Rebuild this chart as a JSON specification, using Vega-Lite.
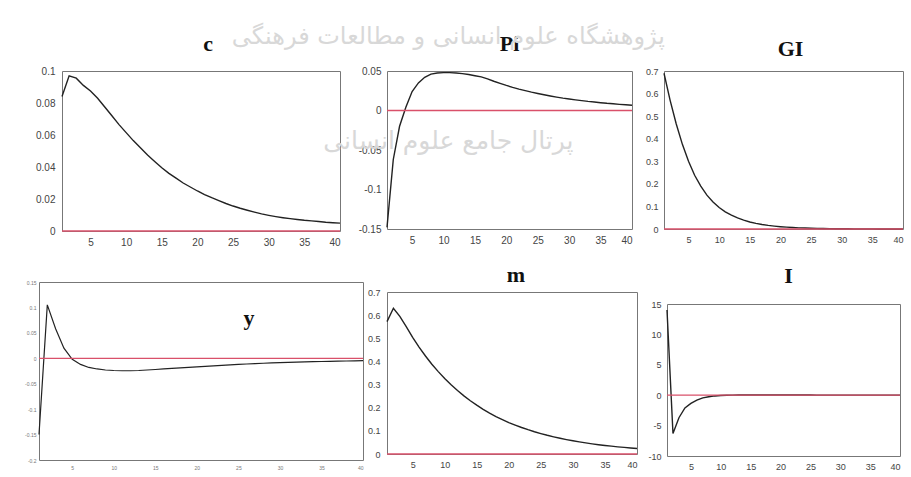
{
  "$schema": "https://vega.github.io/schema/vega-lite/v6.json",
  "background": "white",
  "padding": {"left": 22, "top": 24, "right": 0, "bottom": 0},
  "title": {
    "text": "پژوهشگاه علوم انسانی و مطالعات فرهنگی",
    "subtitle": "پرتال جامع علوم انسانی",
    "frame": "bounds", "anchor": "middle", "offset": -121, "dx": -16,
    "font": "DejaVu Sans", "fontWeight": "normal", "fontSize": 24, "color": "#d8d8d8",
    "subtitleFont": "DejaVu Sans", "subtitleFontSize": 25, "subtitleColor": "#d8d8d8", "subtitlePadding": 80
  },
  "config": {
    "view": {"stroke": "#777", "strokeWidth": 1},
    "axis": {"grid": false, "domain": false, "ticks": false, "labelFont": "Liberation Sans", "labelFontSize": 10, "labelColor": "#444", "labelPadding": 6, "labelOverlap": false, "labelSeparation": 0, "tickCount": 20},
    "title": {"font": "Liberation Serif", "fontWeight": "bold", "fontSize": 22, "color": "#111", "frame": "group"}
  },
  "datasets": {
    "c": [{"t":1,"v":0.084},{"t":2,"v":0.097},{"t":3,"v":0.0955},{"t":4,"v":0.091},{"t":5,"v":0.0875},{"t":6,"v":0.083},{"t":7,"v":0.0775},{"t":8,"v":0.072},{"t":9,"v":0.0665},{"t":10,"v":0.0615},{"t":11,"v":0.0565},{"t":12,"v":0.052},{"t":13,"v":0.0475},{"t":14,"v":0.0435},{"t":15,"v":0.0395},{"t":16,"v":0.036},{"t":17,"v":0.033},{"t":18,"v":0.03},{"t":19,"v":0.0275},{"t":20,"v":0.025},{"t":21,"v":0.0228},{"t":22,"v":0.0208},{"t":23,"v":0.019},{"t":24,"v":0.0172},{"t":25,"v":0.0156},{"t":26,"v":0.0142},{"t":27,"v":0.013},{"t":28,"v":0.0118},{"t":29,"v":0.0107},{"t":30,"v":0.0098},{"t":31,"v":0.009},{"t":32,"v":0.0083},{"t":33,"v":0.0077},{"t":34,"v":0.0072},{"t":35,"v":0.0067},{"t":36,"v":0.0063},{"t":37,"v":0.0059},{"t":38,"v":0.0055},{"t":39,"v":0.0052},{"t":40,"v":0.0049}],
    "Pi": [{"t":1,"v":-0.148},{"t":2,"v":-0.062},{"t":3,"v":-0.02},{"t":4,"v":0.004},{"t":5,"v":0.024},{"t":6,"v":0.035},{"t":7,"v":0.042},{"t":8,"v":0.046},{"t":9,"v":0.0475},{"t":10,"v":0.048},{"t":11,"v":0.048},{"t":12,"v":0.0475},{"t":13,"v":0.0467},{"t":14,"v":0.0455},{"t":15,"v":0.044},{"t":16,"v":0.0425},{"t":17,"v":0.04},{"t":18,"v":0.037},{"t":19,"v":0.0343},{"t":20,"v":0.0317},{"t":21,"v":0.0293},{"t":22,"v":0.0271},{"t":23,"v":0.0251},{"t":24,"v":0.0232},{"t":25,"v":0.0215},{"t":26,"v":0.0199},{"t":27,"v":0.0184},{"t":28,"v":0.017},{"t":29,"v":0.0157},{"t":30,"v":0.0146},{"t":31,"v":0.0135},{"t":32,"v":0.0125},{"t":33,"v":0.0115},{"t":34,"v":0.0107},{"t":35,"v":0.0099},{"t":36,"v":0.0091},{"t":37,"v":0.0085},{"t":38,"v":0.0078},{"t":39,"v":0.0072},{"t":40,"v":0.0067}],
    "GI": [{"t":1,"v":0.69},{"t":2,"v":0.57},{"t":3,"v":0.465},{"t":4,"v":0.375},{"t":5,"v":0.3},{"t":6,"v":0.238},{"t":7,"v":0.19},{"t":8,"v":0.15},{"t":9,"v":0.12},{"t":10,"v":0.095},{"t":11,"v":0.076},{"t":12,"v":0.061},{"t":13,"v":0.049},{"t":14,"v":0.039},{"t":15,"v":0.031},{"t":16,"v":0.025},{"t":17,"v":0.02},{"t":18,"v":0.016},{"t":19,"v":0.0128},{"t":20,"v":0.0102},{"t":21,"v":0.0082},{"t":22,"v":0.0066},{"t":23,"v":0.0052},{"t":24,"v":0.0042},{"t":25,"v":0.0034},{"t":26,"v":0.0027},{"t":27,"v":0.0022},{"t":28,"v":0.0017},{"t":29,"v":0.0014},{"t":30,"v":0.0011},{"t":31,"v":0.0009},{"t":32,"v":0.0007},{"t":33,"v":0.0006},{"t":34,"v":0.0005},{"t":35,"v":0.0004},{"t":36,"v":0.0003},{"t":37,"v":0.0002},{"t":38,"v":0.0002},{"t":39,"v":0.0001},{"t":40,"v":0.0001}],
    "y": [{"t":1,"v":-0.15},{"t":2,"v":0.105},{"t":3,"v":0.058},{"t":4,"v":0.02},{"t":5,"v":-0.002},{"t":6,"v":-0.012},{"t":7,"v":-0.018},{"t":8,"v":-0.021},{"t":9,"v":-0.023},{"t":10,"v":-0.024},{"t":11,"v":-0.0245},{"t":12,"v":-0.0245},{"t":13,"v":-0.024},{"t":14,"v":-0.023},{"t":15,"v":-0.022},{"t":16,"v":-0.021},{"t":17,"v":-0.02},{"t":18,"v":-0.019},{"t":19,"v":-0.018},{"t":20,"v":-0.017},{"t":21,"v":-0.0158},{"t":22,"v":-0.0148},{"t":23,"v":-0.0138},{"t":24,"v":-0.0129},{"t":25,"v":-0.012},{"t":26,"v":-0.0112},{"t":27,"v":-0.0105},{"t":28,"v":-0.0098},{"t":29,"v":-0.0092},{"t":30,"v":-0.0086},{"t":31,"v":-0.0081},{"t":32,"v":-0.0076},{"t":33,"v":-0.0071},{"t":34,"v":-0.0067},{"t":35,"v":-0.0063},{"t":36,"v":-0.0059},{"t":37,"v":-0.0056},{"t":38,"v":-0.0053},{"t":39,"v":-0.005},{"t":40,"v":-0.0047}],
    "m": [{"t":1,"v":0.572},{"t":2,"v":0.63},{"t":3,"v":0.595},{"t":4,"v":0.55},{"t":5,"v":0.504},{"t":6,"v":0.462},{"t":7,"v":0.4235},{"t":8,"v":0.388},{"t":9,"v":0.356},{"t":10,"v":0.326},{"t":11,"v":0.299},{"t":12,"v":0.274},{"t":13,"v":0.251},{"t":14,"v":0.23},{"t":15,"v":0.211},{"t":16,"v":0.193},{"t":17,"v":0.177},{"t":18,"v":0.162},{"t":19,"v":0.149},{"t":20,"v":0.136},{"t":21,"v":0.125},{"t":22,"v":0.1146},{"t":23,"v":0.105},{"t":24,"v":0.0962},{"t":25,"v":0.0882},{"t":26,"v":0.0808},{"t":27,"v":0.0741},{"t":28,"v":0.0679},{"t":29,"v":0.0622},{"t":30,"v":0.057},{"t":31,"v":0.0523},{"t":32,"v":0.0479},{"t":33,"v":0.0439},{"t":34,"v":0.0402},{"t":35,"v":0.0369},{"t":36,"v":0.0338},{"t":37,"v":0.031},{"t":38,"v":0.0284},{"t":39,"v":0.026},{"t":40,"v":0.0238}],
    "I": [{"t":1,"v":14.0},{"t":2,"v":-6.3},{"t":3,"v":-3.7},{"t":4,"v":-2.1},{"t":5,"v":-1.35},{"t":6,"v":-0.8},{"t":7,"v":-0.45},{"t":8,"v":-0.25},{"t":9,"v":-0.12},{"t":10,"v":-0.05},{"t":11,"v":0.0},{"t":12,"v":0.02},{"t":13,"v":0.03},{"t":14,"v":0.03},{"t":15,"v":0.03},{"t":16,"v":0.03},{"t":17,"v":0.029},{"t":18,"v":0.028},{"t":19,"v":0.027},{"t":20,"v":0.026},{"t":21,"v":0.025},{"t":22,"v":0.024},{"t":23,"v":0.023},{"t":24,"v":0.022},{"t":25,"v":0.021},{"t":26,"v":0.02},{"t":27,"v":0.019},{"t":28,"v":0.018},{"t":29,"v":0.017},{"t":30,"v":0.016},{"t":31,"v":0.015},{"t":32,"v":0.014},{"t":33,"v":0.013},{"t":34,"v":0.012},{"t":35,"v":0.011},{"t":36,"v":0.01},{"t":37,"v":0.009},{"t":38,"v":0.008},{"t":39,"v":0.007},{"t":40,"v":0.006}],
    "zero": [{"z":0}]
  },
  "spacing": -10,
  "hconcat": [
    {
      "vconcat": [
        {
          "width": 278, "height": 160,
          "title": {"text": "c", "offset": 10, "dx": 7},
          "layer": [
            {"data": {"name": "c"}, "mark": {"type": "line", "color": "#222", "strokeWidth": 1.4},
             "encoding": {
               "x": {"field": "t", "type": "quantitative", "scale": {"domain": [1, 40], "nice": false}, "axis": {"title": null, "values": [5,10,15,20,25,30,35,40], "tickCount": 20}},
               "y": {"field": "v", "type": "quantitative", "scale": {"domain": [0, 0.1], "nice": false, "zero": false}, "axis": {"title": null, "values": [0,0.02,0.04,0.06,0.08,0.1], "tickCount": 20, "labelOverlap": false, "labelPadding": 7, "minExtent": 27, "labelExpr": "datum.value < 0 ? '-' + format(-datum.value, '~g') : format(datum.value, '~g')"}}
             }},
            {"data": {"name": "zero"}, "mark": {"type": "rule", "color": "#d9506a", "strokeWidth": 1.3}, "encoding": {"y": {"field": "z", "type": "quantitative"}}}
          ]
        },
        {
          "width": 324, "height": 178,
          "title": {"text": "y", "offset": -50, "dx": 48},
          "layer": [
            {"data": {"name": "y"}, "mark": {"type": "line", "color": "#222", "strokeWidth": 1.2},
             "encoding": {
               "x": {"field": "t", "type": "quantitative", "scale": {"domain": [1, 40], "nice": false}, "axis": {"title": null, "values": [5,10,15,20,25,30,35,40], "tickCount": 20, "labelFontSize": 5, "labelColor": "#777", "labelPadding": 5}},
               "y": {"field": "v", "type": "quantitative", "scale": {"domain": [-0.2, 0.15], "nice": false, "zero": false}, "axis": {"title": null, "values": [-0.2,-0.15,-0.1,-0.05,0,0.05,0.1,0.15], "tickCount": 20, "labelOverlap": false, "labelFontSize": 5, "labelColor": "#777", "labelPadding": 3, "minExtent": 16, "labelExpr": "datum.value < 0 ? '-' + format(-datum.value, '~g') : format(datum.value, '~g')"}}
             }},
            {"data": {"name": "zero"}, "mark": {"type": "rule", "color": "#d9506a", "strokeWidth": 1.3}, "encoding": {"y": {"field": "z", "type": "quantitative"}}}
          ]
        }
      ],
      "spacing": 51,
      "bounds": "flush",
      "center": true
    },
    {
      "vconcat": [
        {
          "width": 245, "height": 158,
          "title": {"text": "Pi", "offset": 10, "dx": 0},
          "layer": [
            {"data": {"name": "Pi"}, "mark": {"type": "line", "color": "#222", "strokeWidth": 1.4},
             "encoding": {
               "x": {"field": "t", "type": "quantitative", "scale": {"domain": [1, 40], "nice": false}, "axis": {"title": null, "values": [5,10,15,20,25,30,35,40], "tickCount": 20}},
               "y": {"field": "v", "type": "quantitative", "scale": {"domain": [-0.15, 0.05], "nice": false, "zero": false}, "axis": {"title": null, "values": [-0.15,-0.1,-0.05,0,0.05], "tickCount": 20, "labelOverlap": false, "labelPadding": 6, "minExtent": 30, "labelExpr": "datum.value < 0 ? '-' + format(-datum.value, '~g') : format(datum.value, '~g')"}}
             }},
            {"data": {"name": "zero"}, "mark": {"type": "rule", "color": "#d9506a", "strokeWidth": 1.3}, "encoding": {"y": {"field": "z", "type": "quantitative"}}}
          ]
        },
        {
          "width": 250, "height": 162,
          "title": {"text": "m", "offset": 1, "dx": 4},
          "layer": [
            {"data": {"name": "m"}, "mark": {"type": "line", "color": "#222", "strokeWidth": 1.4},
             "encoding": {
               "x": {"field": "t", "type": "quantitative", "scale": {"domain": [1, 40], "nice": false}, "axis": {"title": null, "values": [5,10,15,20,25,30,35,40], "tickCount": 20, "labelFontSize": 9}},
               "y": {"field": "v", "type": "quantitative", "scale": {"domain": [0, 0.7], "nice": false, "zero": false}, "axis": {"title": null, "values": [0,0.1,0.2,0.3,0.4,0.5,0.6,0.7], "tickCount": 20, "labelOverlap": false, "labelFontSize": 9, "labelPadding": 7, "minExtent": 30, "labelExpr": "format(datum.value, '~g')"}}
             }},
            {"data": {"name": "zero"}, "mark": {"type": "rule", "color": "#d9506a", "strokeWidth": 1.3}, "encoding": {"y": {"field": "z", "type": "quantitative"}}}
          ]
        }
      ],
      "spacing": 63,
      "bounds": "flush"
    },
    {
      "vconcat": [
        {
          "width": 239, "height": 158,
          "title": {"text": "GI", "offset": 6.5, "dx": 7},
          "layer": [
            {"data": {"name": "GI"}, "mark": {"type": "line", "color": "#222", "strokeWidth": 1.4},
             "encoding": {
               "x": {"field": "t", "type": "quantitative", "scale": {"domain": [1, 40], "nice": false}, "axis": {"title": null, "values": [5,10,15,20,25,30,35,40], "tickCount": 20, "labelFontSize": 9}},
               "y": {"field": "v", "type": "quantitative", "scale": {"domain": [0, 0.7], "nice": false, "zero": false}, "axis": {"title": null, "values": [0,0.1,0.2,0.3,0.4,0.5,0.6,0.7], "tickCount": 20, "labelOverlap": false, "labelFontSize": 9, "labelPadding": 6, "minExtent": 32, "labelExpr": "format(datum.value, '~g')"}}
             }},
            {"data": {"name": "zero"}, "mark": {"type": "rule", "color": "#d9506a", "strokeWidth": 1.3}, "encoding": {"y": {"field": "z", "type": "quantitative"}}}
          ]
        },
        {
          "width": 233, "height": 152,
          "title": {"text": "I", "offset": 12, "dx": 5},
          "layer": [
            {"data": {"name": "I"}, "mark": {"type": "line", "color": "#222", "strokeWidth": 1.4},
             "encoding": {
               "x": {"field": "t", "type": "quantitative", "scale": {"domain": [1, 40], "nice": false}, "axis": {"title": null, "values": [5,10,15,20,25,30,35,40], "tickCount": 20, "labelFontSize": 9}},
               "y": {"field": "v", "type": "quantitative", "scale": {"domain": [-10, 15], "nice": false, "zero": false}, "axis": {"title": null, "values": [-10,-5,0,5,10,15], "tickCount": 20, "labelOverlap": false, "labelFontSize": 9, "labelPadding": 6, "minExtent": 32, "labelExpr": "datum.value < 0 ? '-' + format(-datum.value, '~g') : format(datum.value, '~g')"}}
             }},
            {"data": {"name": "zero"}, "mark": {"type": "rule", "color": "#d9506a", "strokeWidth": 1.3}, "encoding": {"y": {"field": "z", "type": "quantitative"}}}
          ]
        }
      ],
      "spacing": 75,
      "bounds": "flush",
      "center": true
    }
  ]
}
